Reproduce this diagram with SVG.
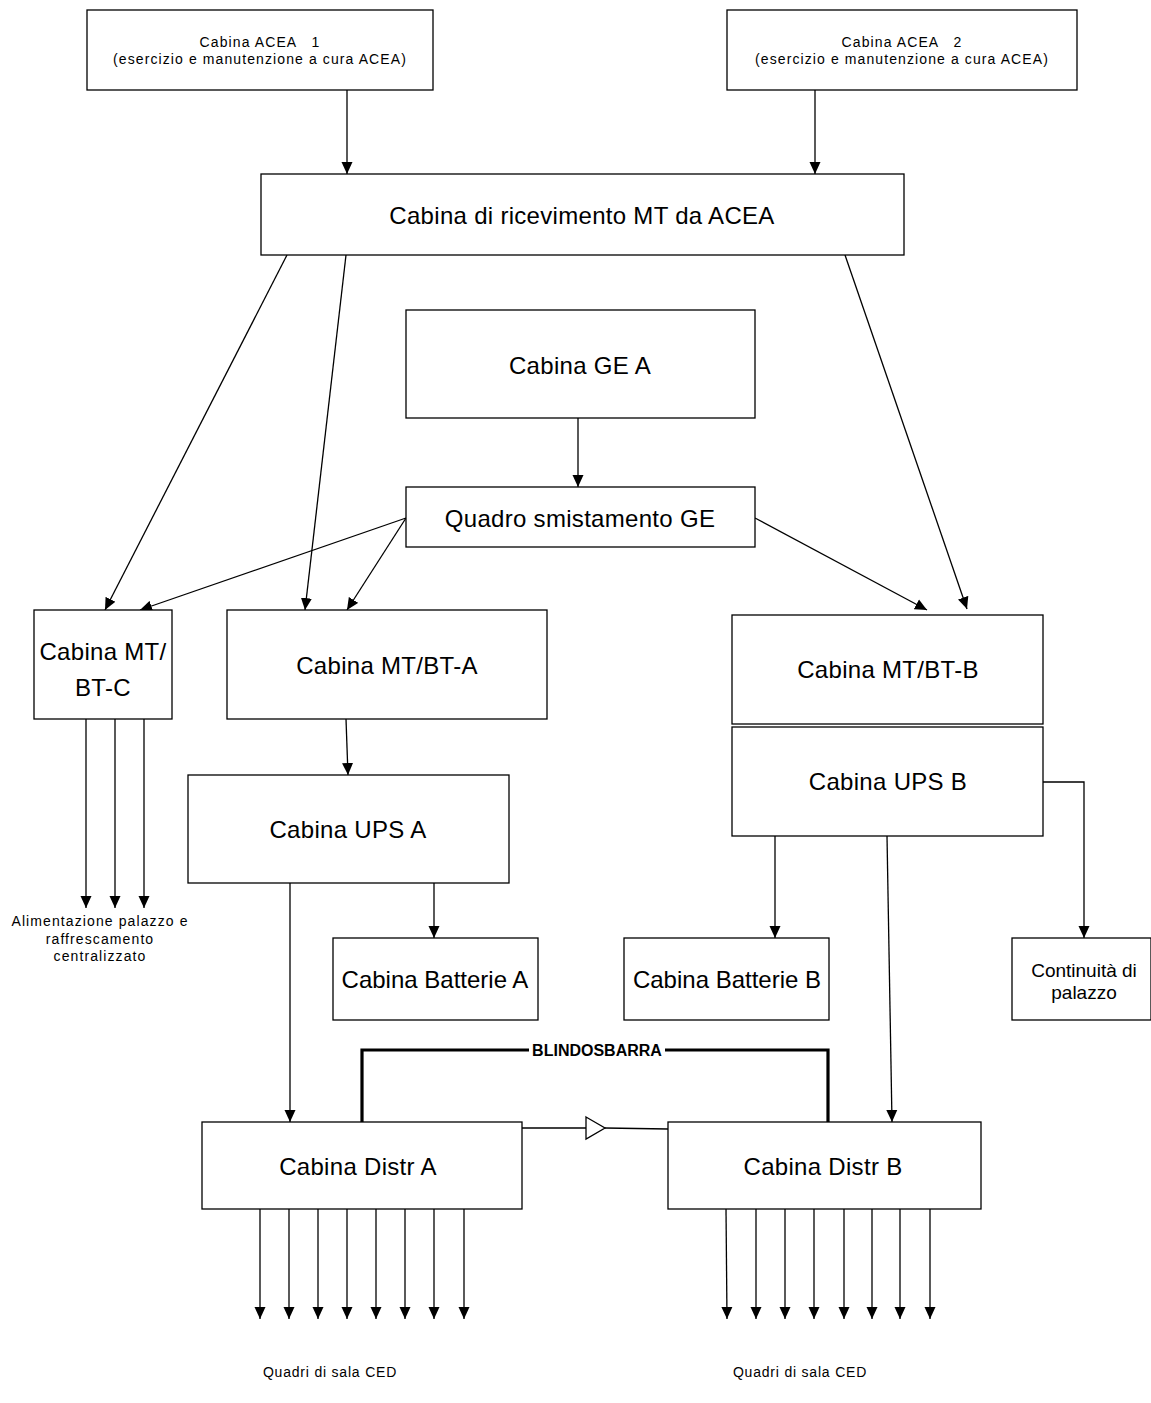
<svg xmlns="http://www.w3.org/2000/svg" width="1151" height="1403" viewBox="0 0 1151 1403">
<style>
rect.n{fill:#fff;stroke:#000;stroke-width:1.3}
text{font-family:"Liberation Sans",Arial,sans-serif;fill:#000;text-anchor:middle}
.big{font-size:24px;letter-spacing:0.3px}
.sm{font-size:14px;letter-spacing:1.1px}
.md{font-size:19px}
.c line,.c path,.c polyline{stroke:#000;stroke-width:1.3;fill:none}
.c .a{marker-end:url(#ah)}
</style>
<defs>
<marker id="ah" markerUnits="userSpaceOnUse" markerWidth="12" markerHeight="12" viewBox="0 0 12 12" refX="12" refY="6" orient="auto">
<path d="M0,0.5 L12,6 L0,11.5 Z" fill="#000"/>
</marker>
</defs>
<g class="c" id="connectors">
<line class="a" x1="347" y1="90" x2="347" y2="174"/>
<line class="a" x1="815" y1="90" x2="815" y2="174"/>
<line class="a" x1="287" y1="255" x2="105" y2="610"/>
<line class="a" x1="346" y1="255" x2="305" y2="610"/>
<line class="a" x1="845" y1="255" x2="967" y2="609"/>
<line class="a" x1="578" y1="418" x2="578" y2="487"/>
<line class="a" x1="406" y1="518" x2="140" y2="610"/>
<line class="a" x1="406" y1="518" x2="347" y2="610"/>
<line class="a" x1="755" y1="518" x2="927" y2="610"/>
<line class="a" x1="86" y1="719" x2="86" y2="908"/>
<line class="a" x1="115" y1="719" x2="115" y2="908"/>
<line class="a" x1="144" y1="719" x2="144" y2="908"/>
<line class="a" x1="346" y1="719" x2="348" y2="775"/>
<line class="a" x1="434" y1="883" x2="434" y2="938"/>
<line class="a" x1="290" y1="883" x2="290" y2="1122"/>
<polyline class="a" points="1043,782 1084,782 1084,938"/>
<line class="a" x1="775" y1="836" x2="775" y2="938"/>
<line class="a" x1="887" y1="836" x2="892" y2="1122"/>
<path d="M362,1122 V1050 H828 V1122" style="stroke-width:3.2"/>
<line x1="522" y1="1128" x2="586" y2="1128"/>
<path d="M586,1117 L605,1128 L586,1139 Z"/>
<line x1="605" y1="1128" x2="668" y2="1129"/>
<line class="a" x1="260" y1="1209" x2="260" y2="1319"/>
<line class="a" x1="289" y1="1209" x2="289" y2="1319"/>
<line class="a" x1="318" y1="1209" x2="318" y2="1319"/>
<line class="a" x1="347" y1="1209" x2="347" y2="1319"/>
<line class="a" x1="376" y1="1209" x2="376" y2="1319"/>
<line class="a" x1="405" y1="1209" x2="405" y2="1319"/>
<line class="a" x1="434" y1="1209" x2="434" y2="1319"/>
<line class="a" x1="464" y1="1209" x2="464" y2="1319"/>
<line class="a" x1="726" y1="1209" x2="727" y2="1319"/>
<line class="a" x1="756" y1="1209" x2="756" y2="1319"/>
<line class="a" x1="785" y1="1209" x2="785" y2="1319"/>
<line class="a" x1="814" y1="1209" x2="814" y2="1319"/>
<line class="a" x1="844" y1="1209" x2="844" y2="1319"/>
<line class="a" x1="872" y1="1209" x2="872" y2="1319"/>
<line class="a" x1="900" y1="1209" x2="900" y2="1319"/>
<line class="a" x1="930" y1="1209" x2="930" y2="1319"/>
</g>
<g id="blindo-label">
<rect x="529" y="1042" width="136" height="16" fill="#fff"/>
<text x="597" y="1056" style="font-size:16px;font-weight:bold">BLINDOSBARRA</text>
</g>
<g id="acea1"><rect class="n" x="87" y="10" width="346" height="80"/>
<text x="260" y="47" class="sm" xml:space="preserve">Cabina ACEA   1</text>
<text x="260" y="64" class="sm">(esercizio e manutenzione a cura ACEA)</text></g>
<g id="acea2"><rect class="n" x="727" y="10" width="350" height="80"/>
<text x="902" y="47" class="sm" xml:space="preserve">Cabina ACEA   2</text>
<text x="902" y="64" class="sm">(esercizio e manutenzione a cura ACEA)</text></g>
<g id="ricevimento"><rect class="n" x="261" y="174" width="643" height="81"/>
<text x="582" y="224" class="big">Cabina di ricevimento MT da ACEA</text></g>
<g id="gea"><rect class="n" x="406" y="310" width="349" height="108"/>
<text x="580" y="374" class="big">Cabina GE A</text></g>
<g id="quadro"><rect class="n" x="406" y="487" width="349" height="60"/>
<text x="580" y="527" class="big">Quadro smistamento GE</text></g>
<g id="mtbtc"><rect class="n" x="34" y="610" width="138" height="109"/>
<text x="103" y="660" class="big">Cabina MT/</text>
<text x="103" y="696" class="big">BT-C</text></g>
<g id="alim-label">
<text x="100" y="926" class="sm" style="letter-spacing:1.1px">Alimentazione palazzo e</text>
<text x="100" y="944" class="sm" style="letter-spacing:1.1px">raffrescamento</text>
<text x="100" y="961" class="sm" style="letter-spacing:1.1px">centralizzato</text></g>
<g id="mtbta"><rect class="n" x="227" y="610" width="320" height="109"/>
<text x="387" y="674" class="big">Cabina MT/BT-A</text></g>
<g id="upsa"><rect class="n" x="188" y="775" width="321" height="108"/>
<text x="348" y="838" class="big">Cabina UPS A</text></g>
<g id="batta"><rect class="n" x="333" y="938" width="205" height="82"/>
<text x="435" y="988" class="big" style="letter-spacing:0">Cabina Batterie A</text></g>
<g id="mtbtb"><rect class="n" x="732" y="615" width="311" height="109"/>
<text x="888" y="678" class="big">Cabina MT/BT-B</text></g>
<g id="upsb"><rect class="n" x="732" y="727" width="311" height="109"/>
<text x="888" y="790" class="big">Cabina UPS B</text></g>
<g id="battb"><rect class="n" x="624" y="938" width="205" height="82"/>
<text x="727" y="988" class="big" style="letter-spacing:0">Cabina Batterie B</text></g>
<g id="continuita"><rect class="n" x="1012" y="938" width="139" height="82"/>
<text x="1084" y="977" class="md">Continuità di</text>
<text x="1084" y="999" class="md">palazzo</text></g>
<g id="distra"><rect class="n" x="202" y="1122" width="320" height="87"/>
<text x="358" y="1175" class="big">Cabina Distr A</text></g>
<g id="distrb"><rect class="n" x="668" y="1122" width="313" height="87"/>
<text x="823" y="1175" class="big">Cabina Distr B</text></g>
<g id="ced-labels">
<text x="330" y="1377" class="sm" style="letter-spacing:0.8px">Quadri di sala CED</text>
<text x="800" y="1377" class="sm" style="letter-spacing:0.8px">Quadri di sala CED</text></g>
</svg>
